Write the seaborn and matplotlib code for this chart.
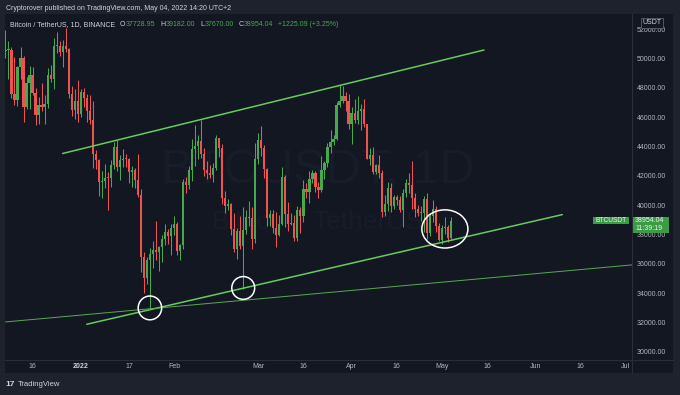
import numpy as np
import pandas as pd
import matplotlib
matplotlib.use("Agg")
import matplotlib.pyplot as plt
import matplotlib.dates as mdates
import matplotlib.transforms as mtransforms
from matplotlib.patches import Ellipse, Rectangle
from matplotlib.lines import Line2D
import seaborn as sns

# daily BTCUSDT candles, 2021-12-07 .. 2022-05-04 (open = previous close)
first_day = "2021-12-07"
first_open = 50471.0
closes = [
    50562, 50581, 47545, 47141, 49389, 50053, 46702, 48343, 48864, 47632, 46131, 46834, 46681,
    46914, 48890, 48588, 50838, 50821, 50429, 50810, 50640, 47588, 46464, 47120, 46216,
    47722, 47286, 46446, 45832, 43451, 43082, 41566, 41679, 41865, 41822, 42736, 43949, 42592,
    43099, 43177, 43114, 42250, 42375, 41744, 40680, 36445, 35071, 36244, 36660, 36958, 36809,
    37160, 37716, 38166, 37881, 38466,
    38694, 36896, 37311, 41574, 41382, 42380, 43839, 44043, 44379, 43515, 42373, 42217, 42053,
    42535, 44544, 43873, 40515, 39974, 40079, 38386, 37008, 38230, 37250, 38327, 39219, 39116,
    37700, 43160,
    44421, 43892, 42454, 39148, 39397, 38420, 37988, 38730, 41942, 39422, 38730, 38807, 37777,
    39672, 39280, 41114, 40917, 41757, 42201, 41262, 41002, 42364, 42882, 43991, 44313, 44511,
    46827, 47122, 47434, 47067, 45510,
    46283, 45811, 46407, 46580, 45497, 43170, 43444, 42252, 42753, 42158, 39530, 40074, 41147,
    39942, 40551, 40378, 39678, 40801, 41493, 41358, 40480, 39709, 39441, 39450, 40427, 38112,
    39236, 39742, 38596, 37630,
    38468, 38525, 37728.95, 38954.04,
]
highs = [
    51936, 51200, 50796, 50100, 49485, 50797, 50189, 48700, 49500, 49436, 47995, 47360, 48300,
    47537, 49328, 49576, 51375, 51810, 51156, 51280, 52088, 50704, 48139, 47879, 48548,
    47944, 47990, 47570, 47505, 47070, 43748, 43145, 42300, 42786, 42248, 43100, 44322, 44458,
    43448, 43800, 43475, 43179, 42691, 42559, 43505, 41100, 36835, 36499, 37055, 37550, 38919,
    37234, 38000, 38720, 38359, 38744,
    39265, 38855, 37387, 41772, 41913, 42656, 44500, 45492, 44799, 45821, 43920, 43000, 42760,
    42876, 44751, 44578, 44164, 40959, 40444, 40125, 39494, 38429, 39249, 39843, 39683, 40300,
    39855, 44225,
    44949, 45400, 44102, 42527, 39700, 39693, 39547, 39362, 42600, 42039, 40236, 39486, 39310,
    39947, 39887, 41718, 41478, 42325, 42400, 42296, 41544, 43361, 43025, 44220, 45094, 44792,
    46999, 48190, 48096, 47700, 47600,
    46720, 47213, 47444, 46890, 47200, 45507, 43900, 43970, 42800, 43410, 42414, 40699, 41561,
    41500, 40709, 40670, 40595, 41116, 41760, 42199, 42976, 40795, 39980, 39940, 40616, 40797,
    39474, 40372, 39925, 38795,
    38675, 39167, 38651, 39182.00,
]
lows = [
    50039, 48600, 47320, 46852, 46751, 48600, 45672, 46547, 46547, 47511, 45456, 45500, 46406,
    45558, 46630, 48421, 47920, 50384, 50142, 49412, 50449, 47313, 46096, 45900, 45678,
    46000, 46654, 45696, 45500, 42500, 42430, 40610, 40500, 41200, 39650, 41268, 42450, 42311,
    41725, 42578, 42581, 41540, 41250, 41138, 40553, 35440, 34008, 34601, 32917, 35701, 36234,
    35507, 36155, 37268, 37351, 36632,
    38000, 36586, 36250, 37026, 40843, 41116, 41645, 42666, 43117, 43187, 42012, 41748, 41870,
    41570, 42427, 43307, 40073, 39450, 39639, 38000, 36800, 36350, 37036, 34322, 38014, 38600,
    37000, 37450,
    42809, 43334, 41832, 38550, 38550, 38088, 37155, 37867, 38656, 38539, 38223, 38660, 37578,
    37578, 38098, 38828, 40500, 40135, 41499, 40911, 40467, 40875, 41751, 42566, 43579, 44071,
    44421, 46663, 46950, 46445, 45200,
    44200, 45620, 45530, 45118, 45353, 43121, 42727, 42107, 42125, 41868, 39200, 39254, 39588,
    39551, 39766, 40020, 39546, 38536, 40571, 40820, 39751, 39177, 39285, 38929, 38200, 37702,
    37867, 38881, 38175, 37578,
    37386, 38052, 37517, 37670.00,
]

tick_days = ["2021-12-16", "2022-01-01", "2022-01-17", "2022-02-01", "2022-03-01", "2022-03-16",
             "2022-04-01", "2022-04-16", "2022-05-01", "2022-05-16", "2022-06-01", "2022-06-16",
             "2022-07-01"]
tick_labels = ["16", "2022", "17", "Feb", "Mar", "16", "Apr", "16", "May", "16", "Jun", "16", "Jul"]
price_ticks = list(range(30000, 52001, 2000))

# drawn trend lines and the circled touches
upper_days = ["2021-12-26", "2022-05-15"]
upper_prices = [43520, 50570]
lower_days = ["2022-01-03", "2022-06-10"]
lower_prices = [31885, 39355]
base_days = ["2021-12-07", "2022-07-10"]
base_prices = [32044, 36058]
circle_days = ["2022-01-24", "2022-02-24", "2022-05-02"]
circle_prices = [33000, 34360, 38380]

BG = "#131722"
FRAME = "#1e222d"
SEP = "#2a2e39"
TXT = "#b2b5be"
LIGHT = "#d1d4dc"
UP = "#46a94d"
DOWN = "#ef5350"
TREND = "#66cc5c"
MARK = "#181c28"

sns.set_style("dark", {"axes.facecolor": BG, "figure.facecolor": FRAME})
plt.rcParams["font.family"] = ["Liberation Sans", "DejaVu Sans"]

W, H = 680, 395
fig = plt.figure(figsize=(W / 100, H / 100), dpi=100, facecolor=FRAME)
fig.patches.append(Rectangle((5 / W, 1 - 373 / H), 668 / W, 359 / H, transform=fig.transFigure,
                             fc=BG, ec="none", zorder=-5))
ax = fig.add_axes([5 / W, 35 / H, 627 / W, 346 / H])
ax.set_facecolor(BG)
ax.grid(False)
for s in ax.spines.values():
    s.set_visible(False)

dates = pd.date_range(first_day, periods=len(closes), freq="D")
x = mdates.date2num(dates)
c = np.array(closes, dtype=float)
o = np.array([first_open] + closes[:-1], dtype=float)
hi = np.array(highs, dtype=float)
lo = np.array(lows, dtype=float)
up = c >= o

x0 = mdates.date2num(pd.Timestamp("2022-01-01"))
ymin, ymax = 29452, 53022
ax.set_xlim(x0 - 25.15, x0 + 183.17)
ax.set_ylim(ymin, ymax)
ppx = (ymax - ymin) / 346

# watermark
ax.text(0.499, 0.549, "BTCUSDT, 1D", transform=ax.transAxes, ha="center", va="center",
        fontsize=35, color=MARK, zorder=0)
ax.text(0.499, 0.399, "Bitcoin / TetherUS", transform=ax.transAxes, ha="center", va="center",
        fontsize=19, color=MARK, zorder=0)

for mask, col in [(up, UP), (~up, DOWN)]:
    ax.vlines(x[mask], lo[mask], hi[mask], color=col, lw=0.75, zorder=2)
    ax.bar(x[mask], np.maximum(np.abs(c[mask] - o[mask]), ppx), bottom=np.minimum(o[mask], c[mask]),
           width=0.72, color=col, lw=0, zorder=3)

def days(d):
    return mdates.date2num(pd.to_datetime(d))

sns.lineplot(x=days(upper_days), y=upper_prices, ax=ax, color=TREND, lw=1.1, zorder=4)
sns.lineplot(x=days(lower_days), y=lower_prices, ax=ax, color=TREND, lw=1.1, zorder=4)
sns.lineplot(x=days(base_days), y=base_prices, ax=ax, color="#5aa852", lw=0.7, zorder=4)

for d, p, w, h in zip(days(circle_days), circle_prices, [7.8, 7.6, 15.3], [1620, 1550, 2600]):
    ax.add_patch(Ellipse((d, p), w, h, fill=False, ec="white", lw=1.1, zorder=5))

ax.set_xticks(days(tick_days))
ax.set_xticklabels(tick_labels)
ax.tick_params(axis="x", length=0, pad=2.5, labelsize=5, colors=TXT)
for t in ax.get_xticklabels():
    if t.get_text() == "2022":
        t.set_fontweight("bold")
        t.set_color(LIGHT)
ax.yaxis.tick_right()
ax.set_yticks(price_ticks)
ax.set_yticklabels([f"{p:.2f}" for p in price_ticks])
ax.tick_params(axis="y", length=0, pad=3.6, labelsize=5, colors=TXT)

# separators of the price and time scales
fig.add_artist(Line2D([632 / W, 632 / W], [1 - 14 / H, 1 - 373 / H], color=SEP, lw=0.8))
fig.add_artist(Line2D([5 / W, 673 / W], [1 - 360 / H, 1 - 360 / H], color=SEP, lw=0.8))

# last price labels
last = c[-1]
trans = mtransforms.blended_transform_factory(ax.transAxes, ax.transData)
ax.add_patch(Rectangle((0.938, last - 3.8 * ppx), 0.057, 7.6 * ppx, transform=trans,
                       fc="#3c9c46", ec="none", clip_on=False, zorder=6))
ax.text(0.9665, last, "BTCUSDT", transform=trans, ha="center", va="center", fontsize=4.8,
        color="#e8f5e9", zorder=7)
ax.add_patch(Rectangle((1.0, last - 12.2 * ppx), 37 / 627, 16 * ppx, transform=trans,
                       fc="#3c9c46", ec="none", clip_on=False, zorder=6))
ax.text(1.0279, last, f"{last:.2f}", transform=trans, ha="center", va="center", fontsize=5,
        color="#e8f5e9", zorder=7, clip_on=False)
ax.text(1.0279, last - 7.6 * ppx, "11:39:19", transform=trans, ha="center", va="center",
        fontsize=5, color="#e8f5e9", zorder=7, clip_on=False)

fig.text(652 / W, 1 - 23 / H, "USDT", ha="center", va="center", fontsize=5, color=LIGHT,
         bbox=dict(boxstyle="square,pad=0.2", fc=BG, ec="#5d606b", lw=0.6))

# header and legend line
fig.text(6 / W, 1 - 9 / H, "Cryptorover published on TradingView.com, May 04, 2022 14:20 UTC+2",
         fontsize=5, color=LIGHT, va="center")
chg = c[-1] - c[-2]
pct = chg / c[-2] * 100
parts = [("O", LIGHT, 3.5), (f"{o[-1]:.2f}", UP, 0.3), ("H", LIGHT, 3.5), (f"{hi[-1]:.2f}", UP, 0.3),
         ("L", LIGHT, 3.5), (f"{lo[-1]:.2f}", UP, 0.3), ("C", LIGHT, 3.5), (f"{c[-1]:.2f}", UP, 0.3),
         (f"{chg:+.2f} ({pct:+.2f}%)", UP, 3.5)]
prev = fig.text(10 / W, 1 - 25 / H, "Bitcoin / TetherUS, 1D, BINANCE", fontsize=5,
                color=LIGHT, va="center")
for s, col, gap in parts:
    prev = ax.annotate(s, xy=(1, 0), xycoords=prev, xytext=(gap, 0), textcoords="offset points",
                       ha="left", va="bottom", fontsize=5, color=col, annotation_clip=False)

# footer logo
fig.text(5 / W, 1 - 384 / H, "17", fontsize=6, fontweight="bold", color=LIGHT, va="center")
fig.text(18 / W, 1 - 384 / H, "TradingView", fontsize=5.5, color=LIGHT, va="center")

fig.savefig("out.png", dpi=100, facecolor=FRAME)
